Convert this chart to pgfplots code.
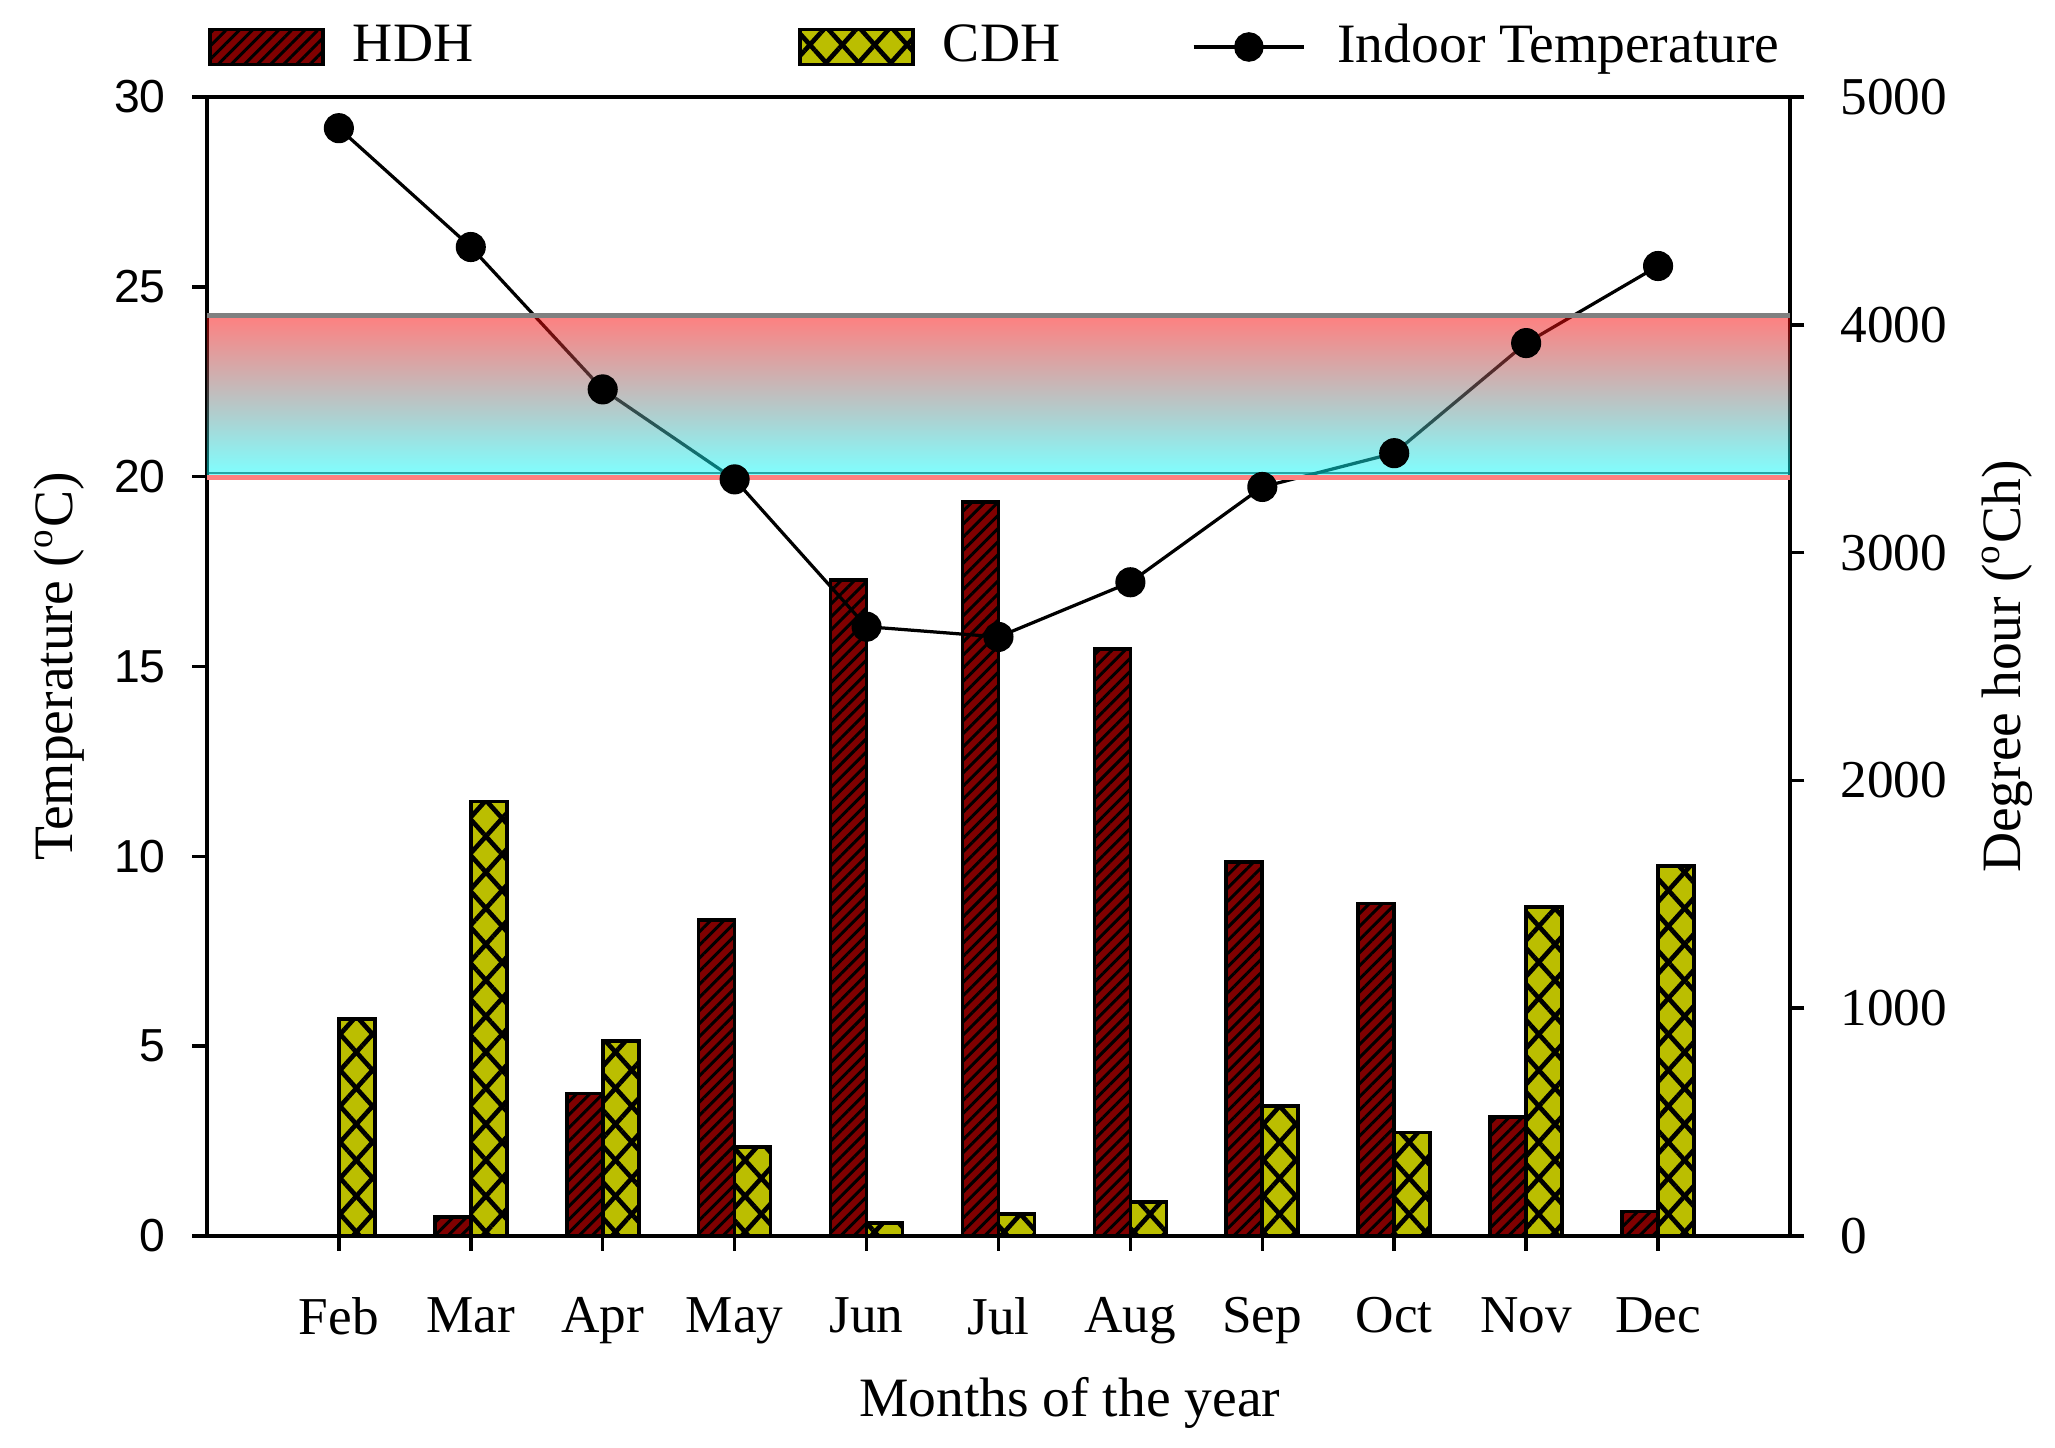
\documentclass[border=0pt]{standalone}
\usepackage{pgfplots}
\pgfplotsset{compat=1.18}
\usepackage{fontspec}
\setmainfont{Liberation Serif}
\newfontfamily\sansf{Liberation Sans}
\usetikzlibrary{patterns.meta}
\definecolor{hdhc}{RGB}{128,0,0}
\definecolor{cdhc}{RGB}{187,190,0}
\tikzset{
  hdhbar/.style={draw=black, line width=0.8pt, fill=hdhc,
    postaction={pattern={Lines[angle=45,distance=2pt,line width=0.65pt]}, pattern color=black}},
  cdhbar/.style={draw=black, line width=0.8pt, fill=cdhc,
    postaction={pattern={Lines[angle=48,distance=5.2pt,line width=1pt]}, pattern color=black},
    postaction={pattern={Lines[angle=-48,distance=5.2pt,line width=1pt]}, pattern color=black}},
}
\pgfplotsset{
  hdhlegend/.style={legend image code/.code={\draw[hdhbar] (0cm,-0.133cm) rectangle (0.858cm,0.133cm); \path (1.08cm,0cm);}},
  cdhlegend/.style={legend image code/.code={\draw[cdhbar] (0cm,-0.133cm) rectangle (0.858cm,0.133cm); \path (1.08cm,0cm);}},
  linelegend/.style={legend image code/.code={\draw[black, line width=0.7pt] (0cm,0cm) -- (0.84cm,0cm); \fill[black] (0.42cm,0cm) circle (0.1cm); \path (1.08cm,0cm);}},
  common/.style={
    at={(1.571cm,1.609cm)}, anchor=south west, scale only axis,
    width=12.017cm, height=8.646cm,
    xmin=-1, xmax=11,
    axis line style={line width=0.85pt},
    tick align=outside, major tick length=0.11cm,
    every tick/.style={line width=0.75pt, black},
    minor tick num=0,
  },
}
\pgfplotstableread{
x hdh cdh
0 0 953
1 82 1907
2 626 857
3 1388 392
4 2880 56
5 3222 96
6 2577 148
7 1642 571
8 1460 455
9 524 1444
10 108 1624
}\dhtable
\pgfplotstableread{
x t
0 29.18
1 26.05
2 22.30
3 19.93
4 16.05
5 15.78
6 17.22
7 19.73
8 20.62
9 23.52
10 25.55
}\temptable
\begin{document}
\begin{tikzpicture}
\useasboundingbox (0,0) rectangle (15.6cm,10.992cm);
% bars axis (right)
\begin{axis}[common,
  ymin=0, ymax=5000,
  axis y line*=right, axis x line*=bottom,
  xtick={0,...,10},
  xticklabels={Feb,Mar,Apr,May,Jun,Jul,Aug,Sep,Oct,Nov,Dec},
  xticklabel style={font=\fontsize{11.5}{13}\selectfont, yshift=-0.23cm},
  ytick={0,1000,2000,3000,4000,5000},
  yticklabels={0,1000,2000,3000,4000,5000},
  yticklabel style={font=\fontsize{11.5}{13}\selectfont, xshift=0.15cm},
  ylabel={Degree hour (\textsuperscript{o}Ch)},
  ylabel style={at={(axis description cs:1.137,0.5)}, anchor=center, rotate=0, font=\fontsize{12}{14}\selectfont},
  xlabel={Months of the year},
  xlabel style={at={(axis description cs:0.545,0)}, anchor=base, yshift=-1.37cm, font=\fontsize{12}{14}\selectfont},
]
\addplot[hdhbar, ybar, bar width=0.273, bar shift=-0.1365] table[x=x, y=hdh] {\dhtable};
\addplot[cdhbar, ybar, bar width=0.273, bar shift=0.1365] table[x=x, y=cdh] {\dhtable};
\end{axis}
% temperature axis (left)
\begin{axis}[common,
  ymin=0, ymax=30,
  axis y line*=left, axis x line*=top,
  xtick=\empty,
  ytick={0,5,10,15,20,25,30},
  yticklabels={0,5,10,15,20,25,30},
  yticklabel style={font=\sansf\fontsize{10}{12}\selectfont, xshift=-0.08cm},
  ylabel={Temperature (\textsuperscript{o}C)},
  ylabel style={at={(axis description cs:-0.0935,0.5)}, anchor=center, font=\fontsize{12}{14}\selectfont},
  legend columns=3,
  legend style={draw=none, fill=none, inner sep=0pt, column sep=0pt,
    at={(axis description cs:0,1)}, anchor=west, yshift=0.38cm,
    nodes={inner sep=0pt, font=\fontsize{12}{14}\selectfont}},
  legend cell align=left,
]
\addlegendimage{hdhlegend}
\addlegendentry{\makebox[3.378cm][l]{HDH}}
\addlegendimage{cdhlegend}
\addlegendentry{\makebox[1.89cm][l]{CDH}}
\addplot[black, line width=0.7pt, mark=*, mark size=2.9pt, mark options={fill=black}, linelegend] table[x=x, y=t] {\temptable};
\addlegendentry{Indoor Temperature}
% comfort band
\addplot[draw=none, top color=red, bottom color=cyan, opacity=0.5, forget plot] coordinates {(-1,20.05) (11,20.05) (11,24.25) (-1,24.25)} -- cycle;
\addplot[gray, line width=1pt, forget plot] coordinates {(-1,24.25) (11,24.25)};
\addplot[teal, opacity=0.7, line width=0.6pt, forget plot] coordinates {(-1,20.1) (11,20.1)};
\addplot[red!50, line width=0.9pt, forget plot] coordinates {(-1,19.98) (11,19.98)};
\end{axis}
\end{tikzpicture}
\end{document}
